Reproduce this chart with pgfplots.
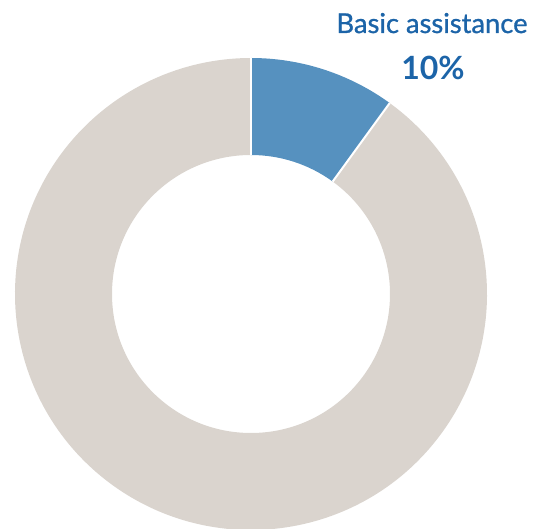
\documentclass[border=0pt]{standalone}
\usepackage{pgfplots}
\pgfplotsset{compat=1.18}
\usepackage{pgfplotstable}
\usepackage{fontspec}
\setmainfont{Lato}
\newfontfamily\medfont{Lato}[BoldFont=Lato, BoldFeatures={FakeBold=1.0}]
\definecolor{segblue}{RGB}{86,145,191}
\definecolor{seggray}{RGB}{218,212,206}
\definecolor{txtblue}{RGB}{28,100,168}
\pgfplotstableread{
label value
Basic 10
Other 90
}\shares
\begin{document}
\begin{tikzpicture}
\begin{axis}[
  x=0.75pt, y=0.75pt,
  xmin=0, xmax=533, ymin=0, ymax=529,
  hide axis,
  clip=true,
]
\pgfplotstablegetelem{0}{value}\of\shares \let\va\pgfplotsretval
\pgfplotstablegetelem{1}{value}\of\shares \let\vb\pgfplotsretval
\pgfmathsetmacro{\aone}{90-3.6*\va}
\pgfmathsetmacro{\atwo}{\aone-3.6*\vb}
\def\Ro{177pt}
\def\Ri{104.25pt}
% blue segment (clockwise from top)
\fill[segblue] (axis cs:251,235) ++(90:\Ro) arc[start angle=90, end angle=\aone, radius=\Ro]
  -- ([shift={(\aone:\Ri)}]axis cs:251,235) arc[start angle=\aone, end angle=90, radius=\Ri] -- cycle;
% gray segment
\fill[seggray] (axis cs:251,235) ++(\aone:\Ro) arc[start angle=\aone, end angle=\atwo, radius=\Ro]
  -- ([shift={(\atwo:\Ri)}]axis cs:251,235) arc[start angle=\atwo, end angle=\aone, radius=\Ri] -- cycle;
% separators
\draw[white, line width=1.5pt] ([shift={(90:\Ri)}]axis cs:251,235) -- ([shift={(90:\Ro)}]axis cs:251,235);
\draw[white, line width=1.5pt] ([shift={(\aone:\Ri)}]axis cs:251,235) -- ([shift={(\aone:\Ro)}]axis cs:251,235);
\node[anchor=base, text=txtblue, font=\medfont\fontsize{20.5}{24}\selectfont\bfseries, inner sep=0pt] at (axis cs:432,496) {Basic assistance};
\node[anchor=base, text=txtblue, font=\fontsize{24}{28}\selectfont\bfseries, inner sep=0pt] at (axis cs:433,449) {10\%};
\end{axis}
\pgfresetboundingbox
\path (current axis.south west) rectangle (current axis.north east);
\end{tikzpicture}
\end{document}
